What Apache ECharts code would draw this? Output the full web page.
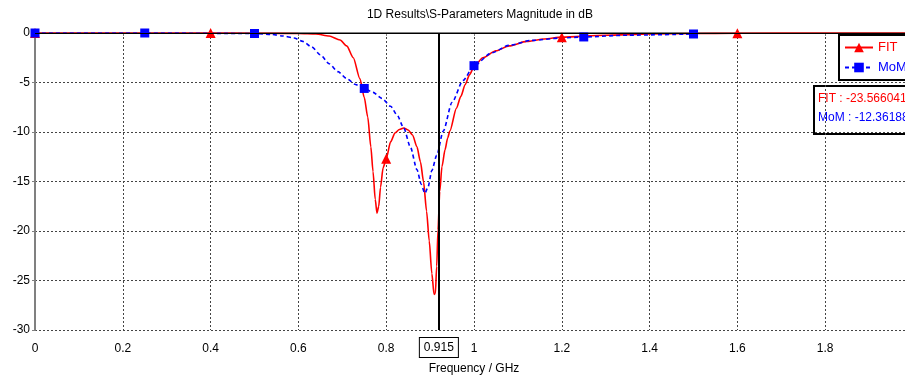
<!DOCTYPE html>
<html>
<head>
<meta charset="utf-8">
<script src="https://cdn.jsdelivr.net/npm/echarts@6/dist/echarts.min.js"></script>
<style>
  html, body { margin: 0; padding: 0; background: #fff; }
  #main { width: 905px; height: 376px; }
</style>
</head>
<body>
<div id="main"></div>
<script>
// FIT curve (GHz, dB)
const fitFreq = [0, 0.2, 0.4, 0.5, 0.6, 0.64, 0.67, 0.695, 0.71, 0.725, 0.74, 0.75, 0.758, 0.765, 0.77, 0.775, 0.779,
  0.783, 0.787, 0.793, 0.8, 0.81, 0.82, 0.83, 0.84, 0.85, 0.86, 0.87, 0.878, 0.885, 0.892, 0.898, 0.904, 0.909,
  0.912, 0.915, 0.918, 0.922, 0.927, 0.934, 0.94, 0.945, 0.96, 0.97, 0.98, 0.99, 1.0, 1.02, 1.05, 1.08, 1.12,
  1.16, 1.2, 1.3, 1.4, 1.5, 1.6, 1.8, 2.0];
const fitDb = [0, 0, 0, -0.02, -0.05, -0.1, -0.3, -0.7, -1.3, -2.5, -4.6, -6.5, -8.5, -11.5, -14, -16.8, -18.2,
  -17.5, -15.6, -13.6, -12.7, -11.0, -10.1, -9.75, -9.6, -9.8, -10.3, -11.5, -13, -15, -18, -21, -24.3, -26.4,
  -26.3, -23.57, -19.9, -16, -13.5, -11.8, -10.6, -9.9, -7.6, -6.4, -5.2, -4.2, -3.4, -2.5, -1.8, -1.3, -0.85,
  -0.6, -0.42, -0.22, -0.1, -0.05, -0.02, 0, 0];
const fitMarkFreq = [0, 0.4, 0.8, 1.2, 1.6];

// MoM curve (GHz, dB)
const momFreq = [0, 0.25, 0.5, 0.54, 0.565, 0.59, 0.61, 0.63, 0.65, 0.67, 0.69, 0.71, 0.73, 0.75, 0.77, 0.79,
  0.81, 0.825, 0.84, 0.855, 0.87, 0.88, 0.888, 0.895, 0.904, 0.915, 0.93, 0.95, 0.975, 1.0, 1.04, 1.08, 1.13,
  1.2, 1.25, 1.35, 1.5];
const momDb = [0, 0, -0.05, -0.15, -0.3, -0.5, -0.85, -1.4, -2.2, -3.1, -3.9, -4.6, -5.2, -5.6, -6.0, -6.6,
  -7.4, -8.3, -9.6, -11.5, -13.8, -15.3, -16.2, -15.6, -13.9, -12.36, -9.9, -7.0, -4.8, -3.3, -2.0, -1.25, -0.75,
  -0.5, -0.4, -0.22, -0.1];
const momMarkFreq = [0, 0.25, 0.5, 0.75, 1.0, 1.25, 1.5];

const markerFreq = 0.915;
const readoutFit = "FIT : -23.566041";
const readoutMom = "MoM : -12.361886";

const xTicks = { min: 0, max: 2, step: 0.2 };
const yTicks = { min: -30, max: 0, step: 5 };

const FONT = "Liberation Sans";
const RED = "#ff0000";
const BLUE = "#0000ff";

const chart = echarts.init(document.getElementById("main"));

function toData(freq, db, marks) {
  return freq.map((f, i) => ({
    value: [f, db[i]],
    symbol: marks.includes(f) ? undefined : "none"
  }));
}

const gridDots = { color: "#444", width: 1, type: [2, 2] };

const option = {
  animation: false,
  textStyle: { fontFamily: FONT },
  title: {
    text: "1D Results\\S-Parameters Magnitude in dB",
    left: 475,
    top: 4,
    textAlign: "center",
    textStyle: { fontFamily: FONT, fontSize: 12, fontWeight: "normal", color: "#000" }
  },
  // plot runs past the right edge of the window, like the reference
  grid: { left: 35, top: 33, width: 878, height: 297, containLabel: false, outerBoundsMode: "none" },
  legend: {
    orient: "vertical",
    left: 839,
    top: 35,
    padding: [6, 30, 6, 5],
    itemWidth: 28,
    itemHeight: 12,
    itemGap: 7,
    backgroundColor: "#fff",
    borderColor: "#000",
    borderWidth: 2,
    borderRadius: 0,
    textStyle: { fontFamily: FONT, fontSize: 13 },
    data: [
      { name: "FIT", textStyle: { color: RED } },
      { name: "MoM", textStyle: { color: BLUE } }
    ]
  },
  xAxis: {
    type: "value",
    min: xTicks.min,
    max: xTicks.max,
    interval: xTicks.step,
    name: "Frequency / GHz",
    nameLocation: "middle",
    nameGap: 33,
    nameTextStyle: { fontFamily: FONT, fontSize: 12, color: "#000" },
    axisLine: { lineStyle: { color: "#808080", width: 2 } },
    axisTick: { show: true, length: 3, lineStyle: { color: "#808080" } },
    axisLabel: {
      fontFamily: FONT, fontSize: 12, color: "#000", margin: 13,
      formatter: v => (v >= 1.99 ? "" : String(+v.toFixed(1)))
    },
    splitLine: { show: true, lineStyle: gridDots }
  },
  yAxis: {
    type: "value",
    min: yTicks.min,
    max: yTicks.max,
    interval: yTicks.step,
    axisLine: { show: true, lineStyle: { color: "#808080", width: 2 } },
    axisTick: { show: true, length: 3, lineStyle: { color: "#808080" } },
    axisLabel: { fontFamily: FONT, fontSize: 12, color: "#000", margin: 5 },
    splitLine: { show: true, lineStyle: gridDots }
  },
  series: [
    {
      // solid reference line at 0 dB, drawn beneath the curves
      type: "line",
      data: [],
      z: 1,
      silent: true,
      markLine: {
        silent: true,
        symbol: "none",
        label: { show: false },
        lineStyle: { color: "#000", width: 1, type: "solid" },
        data: [{ yAxis: 0 }]
      }
    },
    {
      name: "FIT",
      type: "line",
      z: 3,
      smooth: 0.25,
      smoothMonotone: "x",
      symbol: "triangle",
      symbolSize: 10,
      color: RED,
      itemStyle: { color: RED },
      lineStyle: { color: RED, width: 1.6 },
      data: toData(fitFreq, fitDb, fitMarkFreq)
    },
    {
      name: "MoM",
      type: "line",
      z: 3,
      smooth: 0.25,
      smoothMonotone: "x",
      symbol: "rect",
      symbolSize: 9,
      color: BLUE,
      itemStyle: { color: BLUE },
      lineStyle: { color: BLUE, width: 1.6, type: [4, 3] },
      data: toData(momFreq, momDb, momMarkFreq)
    },
    {
      // frequency marker
      type: "line",
      data: [],
      z: 5,
      silent: true,
      markLine: {
        silent: true,
        symbol: "none",
        lineStyle: { color: "#000", width: 2, type: "solid" },
        label: {
          show: true,
          position: "start",
          distance: 8,
          formatter: String(markerFreq),
          fontFamily: FONT,
          fontSize: 12,
          color: "#000",
          backgroundColor: "#fff",
          borderColor: "#000",
          borderWidth: 1,
          padding: [4, 4, 3, 4]
        },
        data: [{ xAxis: markerFreq }]
      }
    }
  ],
  graphic: [
    {
      type: "group",
      left: 813,
      top: 85,
      z: 100,
      children: [
        { type: "rect", shape: { x: 0, y: 0, width: 110, height: 48 },
          style: { fill: "#fff", stroke: "#000", lineWidth: 2 } },
        { type: "text", x: 4, y: 13,
          style: { text: readoutFit, fill: RED, font: "12px " + FONT, verticalAlign: "middle" } },
        { type: "text", x: 4, y: 32,
          style: { text: readoutMom, fill: BLUE, font: "12px " + FONT, verticalAlign: "middle" } }
      ]
    }
  ]
};

chart.setOption(option);
</script>
</body>
</html>
